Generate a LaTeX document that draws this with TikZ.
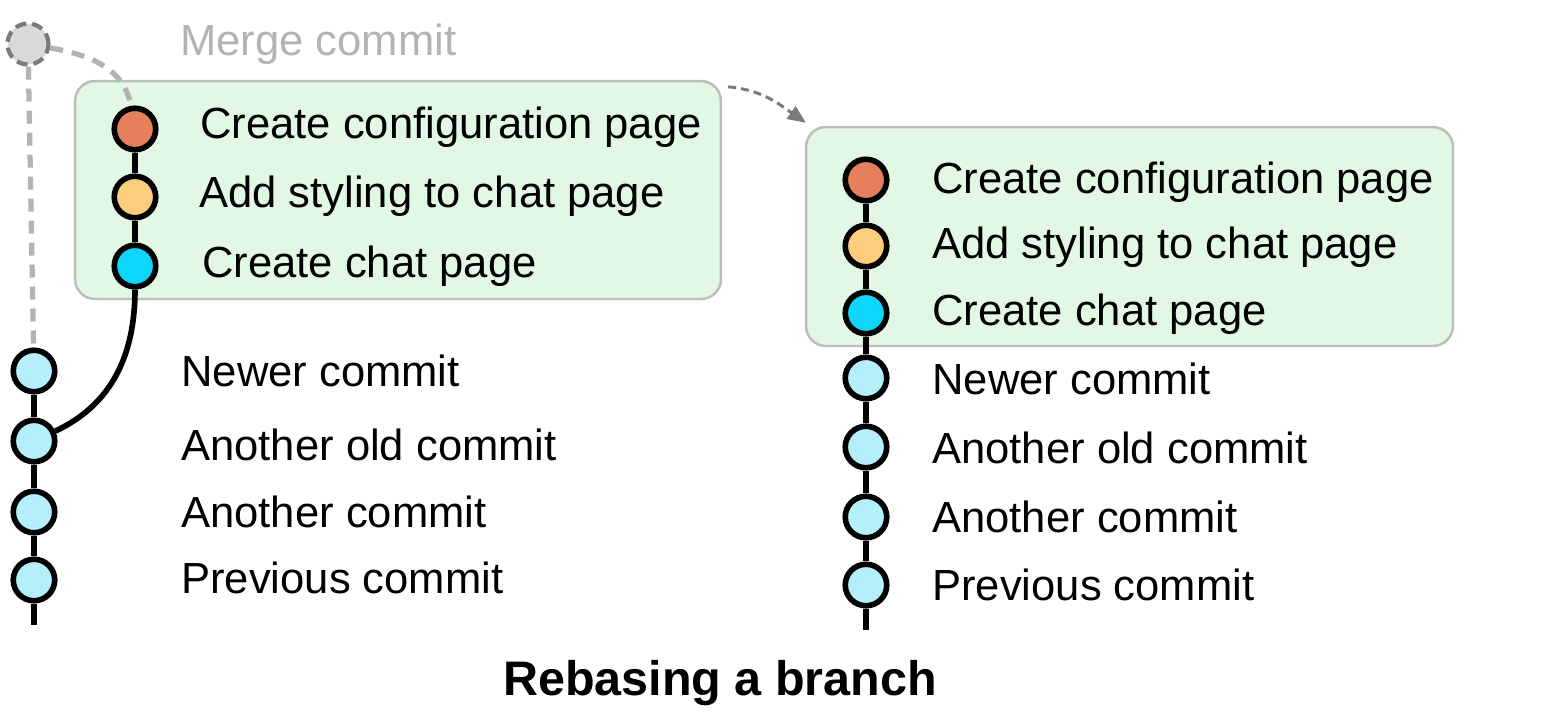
\documentclass[tikz,border=0pt]{standalone}
\usepackage{fontspec}
\setmainfont{Liberation Sans}
\usetikzlibrary{arrows.meta}

\definecolor{cfgorange}{HTML}{E67F5C}
\definecolor{styleyellow}{HTML}{FDCD7E}
\definecolor{chatcyan}{HTML}{0CD6FC}
\definecolor{oldblue}{HTML}{B5EFFB}
\definecolor{boxgreen}{HTML}{E2F7E4}
\definecolor{boxline}{HTML}{BDBDBD}
\definecolor{mergegray}{HTML}{D9D9D9}
\definecolor{dashgray}{HTML}{B3B3B3}
\definecolor{darkgray}{HTML}{7A7A7A}

\begin{document}
\begin{tikzpicture}[x=0.02cm,y=0.02cm,
    commit/.style={circle,draw=black,line width=3.2pt,minimum size=0.83cm,inner sep=0pt},
    msg/.style={anchor=base west,inner sep=0pt,font=\fontsize{24.8}{29}\selectfont},
    link/.style={line width=3.2pt},
    branchbox/.style={draw=boxline,fill=boxgreen,line width=1.4pt,rounded corners=0.4cm,inner sep=0pt},
    ghost/.style={dashgray,line width=3pt,dash pattern=on 0.26cm off 0.18cm}]
    \useasboundingbox (0,0) rectangle (1565,-724);

    % the two branch boxes
    \node[branchbox,minimum width=12.92cm,minimum height=4.36cm] (oldbox) at (398,-190) {};
    \node[branchbox,minimum width=12.94cm,minimum height=4.38cm] (newbox) at (1129.5,-236.5) {};

    % before rebasing
    \node[commit,fill=cfgorange] (side1) at (135,-129) {};
    \node[commit,fill=styleyellow] (side2) at (135,-197) {};
    \node[commit,fill=chatcyan] (side3) at (135,-266) {};
    \node[commit,fill=oldblue] (old1) at (34,-371) {};
    \node[commit,fill=oldblue] (old2) at (34,-441) {};
    \node[commit,fill=oldblue] (old3) at (34,-512) {};
    \node[commit,fill=oldblue] (old4) at (34,-580) {};
    \coordinate (tailL) at (34,-625);
    \node[commit,draw=darkgray,fill=mergegray,line width=2.4pt,minimum size=0.82cm,
          dash pattern=on 0.22cm off 0.12cm] (merge) at (28,-44) {};

    \draw[link] (side1) -- (side2) -- (side3);
    \draw[link] (old1) -- (old2) -- (old3) -- (old4) -- (tailL);
    \draw[link] (side3) to[out=-90,in=25] (old2);
    \draw[ghost] (merge) -- (old1);
    \draw[ghost] (merge) to[out=-10,in=100] (side1);

    \node[msg,text=dashgray] (mergetxt) at (180,-55) {Merge commit};
    \node[msg] (s1txt) at (200,-138) {Create configuration page};
    \node[msg] (s2txt) at (199,-207) {Add styling to chat page};
    \node[msg] (s3txt) at (202,-277) {Create chat page};
    \node[msg] (o1txt) at (181,-386) {Newer commit};
    \node[msg] (o2txt) at (181,-460) {Another old commit};
    \node[msg] (o3txt) at (181,-527) {Another commit};
    \node[msg] (o4txt) at (181,-593) {Previous commit};

    % after rebasing
    \node[commit,fill=cfgorange] (new1) at (866,-180) {};
    \node[commit,fill=styleyellow] (new2) at (866,-246) {};
    \node[commit,fill=chatcyan] (new3) at (866,-313) {};
    \node[commit,fill=oldblue] (new4) at (866,-378) {};
    \node[commit,fill=oldblue] (new5) at (866,-447) {};
    \node[commit,fill=oldblue] (new6) at (866,-517) {};
    \node[commit,fill=oldblue] (new7) at (866,-585) {};
    \coordinate (tailR) at (866,-630);

    \draw[link] (new1) -- (new2) -- (new3) -- (new4) -- (new5) -- (new6) -- (new7) -- (tailR);

    \node[msg] (n1txt) at (932,-193) {Create configuration page};
    \node[msg] (n2txt) at (932,-258) {Add styling to chat page};
    \node[msg] (n3txt) at (932,-325) {Create chat page};
    \node[msg] (n4txt) at (932,-394) {Newer commit};
    \node[msg] (n5txt) at (932,-463) {Another old commit};
    \node[msg] (n6txt) at (932,-532) {Another commit};
    \node[msg] (n7txt) at (932,-600) {Previous commit};

    \draw[darkgray,line width=1.7pt,dash pattern=on 0.16cm off 0.1cm,
          -{Triangle[length=0.36cm,width=0.3cm]}]
        ([shift={(6,-7)}]oldbox.north east) to[out=-5,in=145] ([shift={(1,3)}]newbox.north west);

    \node[anchor=base,inner sep=0pt,font=\bfseries\fontsize{27.6}{33}\selectfont] (title) at (720,-695) {Rebasing a branch};
\end{tikzpicture}
\end{document}
